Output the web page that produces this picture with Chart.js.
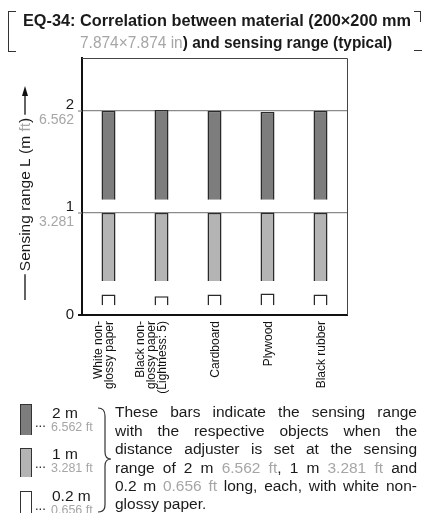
<!DOCTYPE html>
<html>
<head>
<meta charset="utf-8">
<script src="https://cdn.jsdelivr.net/npm/chart.js@4.4.0/dist/chart.umd.min.js"></script>
<style>
  html, body { margin: 0; padding: 0; background: #fff; }
  body {
    width: 422px; height: 513px; position: relative; overflow: hidden;
    font-family: "Liberation Sans", Arial, sans-serif; color: #1a1a1a;
  }
  #wrap { position: absolute; left: 0; top: 0; width: 422px; height: 513px; }
  .overlay { position: absolute; left: 0; top: 0; width: 422px; height: 513px; pointer-events: none; }
  .abs { position: absolute; white-space: nowrap; line-height: normal; }
  .gray { color: #a6a6a6; font-weight: normal; }
  .title { position: absolute; display: inline-block; font-weight: bold; font-size: 16px;
           line-height: normal; white-space: nowrap; transform-origin: left top; }
  .box { position: absolute; left: 20px; width: 10px; border: 1.5px solid #333; border-bottom: none; }
  #note { position: absolute; left: 115px; top: 403.4px; width: 302px;
          font-size: 15.5px; line-height: 18.4px; }
  #note div { text-align: justify; text-align-last: justify; }
  #note div.last { text-align-last: left; }
</style>
</head>
<body>
<div id="wrap"><canvas id="chart"></canvas></div>

<div class="overlay">
  <!-- title with bracket -->
  <div style="position:absolute;left:8px;top:11px;width:7px;height:39px;border:1.2px solid #333;border-right:none;"></div>
  <div style="position:absolute;left:414px;top:11px;width:6px;height:10px;border-top:1.2px solid #333;border-right:1.2px solid #333;"></div>
  <div style="position:absolute;left:414px;top:50px;width:8px;border-top:1.2px solid #333;"></div>
  <div class="title" data-w="388" style="left:22.7px;top:12px;">EQ-34: Correlation between material (200×200 mm</div>
  <div class="title" data-w="312" style="left:80px;top:34.3px;"><span class="gray">7.874×7.874 in</span>) and sensing range (typical)</div>

  <!-- legend -->
  <div class="box" style="top:404px;height:30px;background:#7d7d7d;"></div>
  <div class="box" style="top:448px;height:28px;background:#b4b4b4;"></div>
  <div class="box" style="top:491px;height:30px;background:#fff;"></div>

  <span class="abs" style="left:35px;top:415px;font-size:13px;">...</span>
  <span class="abs" style="left:52px;top:403.7px;font-size:15.5px;">2 m</span>
  <span class="abs gray" style="left:51px;top:419.5px;font-size:12.5px;">6.562 ft</span>

  <span class="abs" style="left:35px;top:456px;font-size:13px;">...</span>
  <span class="abs" style="left:52px;top:444.7px;font-size:15.5px;">1 m</span>
  <span class="abs gray" style="left:51px;top:460.5px;font-size:12.5px;">3.281 ft</span>

  <span class="abs" style="left:35px;top:498px;font-size:13px;">...</span>
  <span class="abs" style="left:52px;top:486.7px;font-size:15.5px;">0.2 m</span>
  <span class="abs gray" style="left:51px;top:502.5px;font-size:12.5px;">0.656 ft</span>

  <svg style="position:absolute;left:0;top:0;" width="422" height="513">
    <path d="M98,408 Q105,408 105,416 L105,452 Q105,459 111,459 Q105,459 105,466 L105,505 Q105,512 98,512"
          fill="none" stroke="#333" stroke-width="1.2"/>
  </svg>

  <div id="note">
    <div>These bars indicate the sensing range</div>
    <div>with the respective objects when the</div>
    <div>distance adjuster is set at the sensing</div>
    <div>range of 2 m <span class="gray">6.562 ft</span>, 1 m <span class="gray">3.281 ft</span> and</div>
    <div>0.2 m <span class="gray">0.656 ft</span> long, each, with white non-</div>
    <div class="last">glossy paper.</div>
  </div>
</div>

<script>
// --- Data ---
const materials = [
    ['White non-', 'glossy paper'],
    ['Black non-', 'glossy paper', '(Lightness: 5)'],
    ['Cardboard'],
    ['Plywood'],
    ['Black rubber']
];
// floating bars: [start, end] in metres
const range2m = [[1.13, 2.0], [1.13, 2.01], [1.13, 2.0], [1.13, 1.99], [1.13, 2.0]];
const range1m = [[0.333, 1.0], [0.333, 1.0], [0.333, 1.0], [0.333, 1.005], [0.333, 1.0]];
const range02m = [[0.095, 0.2], [0.095, 0.185], [0.095, 0.2], [0.095, 0.21], [0.095, 0.2]];
const yTicks = [0, 1, 2];
const yTicksFt = ['', '3.281', '6.562'];
const yMax = 2.52;

const TEXT = '#1a1a1a';
const GRAY = '#a6a6a6';

// --- Squeeze title lines to the width they take in the original ---
document.querySelectorAll('.title').forEach(el => {
    const target = parseFloat(el.dataset.w);
    el.style.transform = `scaleX(${target / el.scrollWidth})`;
});

// --- Labels, axis title and frame drawn on top of the chart ---
const decorPlugin = {
    id: 'decor',
    afterDraw(chart) {
        const { ctx, chartArea: a, scales: { x, y } } = chart;
        ctx.save();

        // top and right frame
        ctx.strokeStyle = '#444';
        ctx.lineWidth = 1;
        ctx.beginPath();
        ctx.moveTo(a.left, a.top + 0.5);
        ctx.lineTo(a.right + 0.5, a.top + 0.5);
        ctx.lineTo(a.right + 0.5, a.bottom);
        ctx.stroke();

        // y tick marks and labels
        yTicks.forEach((v, i) => {
            const py = y.getPixelForValue(v);
            ctx.strokeStyle = v === 0 ? '#111' : '#8a8a8a';
            ctx.lineWidth = v === 0 ? 2 : 1.2;
            ctx.beginPath();
            ctx.moveTo(a.left - 4, py);
            ctx.lineTo(a.left, py);
            ctx.stroke();

            ctx.textAlign = 'right';
            ctx.fillStyle = TEXT;
            ctx.font = '15px "Liberation Sans", Arial, sans-serif';
            if (v === 0) {
                ctx.textBaseline = 'middle';
                ctx.fillText(String(v), 74, py);
            } else {
                ctx.textBaseline = 'alphabetic';
                ctx.fillText(String(v), 74, py - 2.5);
                ctx.fillStyle = GRAY;
                ctx.font = '14px "Liberation Sans", Arial, sans-serif';
                ctx.textBaseline = 'top';
                ctx.fillText(yTicksFt[i], 74, py + 2);
            }
        });

        // x labels, rotated, reading bottom to top
        ctx.fillStyle = '#111';
        ctx.font = '12px "Liberation Sans", Arial, sans-serif';
        ctx.textAlign = 'right';
        ctx.textBaseline = 'middle';
        const lh = 10.8;
        materials.forEach((lines, i) => {
            const px = x.getPixelForValue(i);
            ctx.save();
            ctx.translate(px + 1, a.bottom + 6);
            ctx.rotate(-Math.PI / 2);
            lines.forEach((line, j) => {
                ctx.fillText(line, 0, (j - (lines.length - 1)) * lh);
            });
            ctx.restore();
        });

        // y axis title with arrow
        const parts = [['Sensing range L (m ', TEXT], ['ft', GRAY], [')', TEXT]];
        ctx.font = '15.5px "Liberation Sans", Arial, sans-serif';
        const total = parts.reduce((s, p) => s + ctx.measureText(p[0]).width, 0);
        const cx = 25, cy = 194.5;
        ctx.save();
        ctx.translate(cx + 1, cy);
        ctx.rotate(-Math.PI / 2);
        ctx.textAlign = 'left';
        ctx.textBaseline = 'middle';
        let tx = -total / 2;
        parts.forEach(([t, c]) => {
            ctx.fillStyle = c;
            ctx.fillText(t, tx, 0);
            tx += ctx.measureText(t).width;
        });
        ctx.restore();

        ctx.strokeStyle = '#111';
        ctx.lineWidth = 1.3;
        ctx.beginPath();
        ctx.moveTo(cx, cy + total / 2 + 3);
        ctx.lineTo(cx, 300);
        ctx.moveTo(cx, cy - total / 2 - 3);
        ctx.lineTo(cx, 94);
        ctx.stroke();
        ctx.fillStyle = '#111';
        ctx.beginPath();
        ctx.moveTo(cx, 86);
        ctx.lineTo(cx - 3, 96);
        ctx.lineTo(cx + 3, 96);
        ctx.closePath();
        ctx.fill();

        ctx.restore();
    }
};

const barStyle = {
    borderColor: '#2a2a2a',
    borderWidth: 1.5,
    borderSkipped: 'bottom',
    barThickness: 14,
    grouped: false,
    inflateAmount: 0
};

new Chart(document.getElementById('chart'), {
    type: 'bar',
    data: {
        labels: materials.map(m => m.join(' ')),
        datasets: [
            { label: '2 m', data: range2m, backgroundColor: '#7d7d7d', ...barStyle },
            { label: '1 m', data: range1m, backgroundColor: '#b4b4b4', ...barStyle },
            { label: '0.2 m', data: range02m, backgroundColor: '#ffffff', ...barStyle }
        ]
    },
    options: {
        responsive: true,
        maintainAspectRatio: false,
        animation: false,
        layout: { padding: { left: 82, top: 58, right: 75, bottom: 190 } },
        plugins: {
            legend: { display: false },
            tooltip: { enabled: false }
        },
        scales: {
            x: {
                ticks: { display: false },
                grid: { display: false },
                border: { color: '#111', width: 2 }
            },
            y: {
                min: 0,
                max: yMax,
                afterBuildTicks: (scale) => {
                    scale.ticks = yTicks.map(v => ({ value: v }));
                },
                ticks: { display: false },
                grid: { color: '#8a8a8a', lineWidth: 1.2, drawTicks: false },
                border: { color: '#111', width: 2 }
            }
        }
    },
    plugins: [decorPlugin]
});
</script>
</body>
</html>
